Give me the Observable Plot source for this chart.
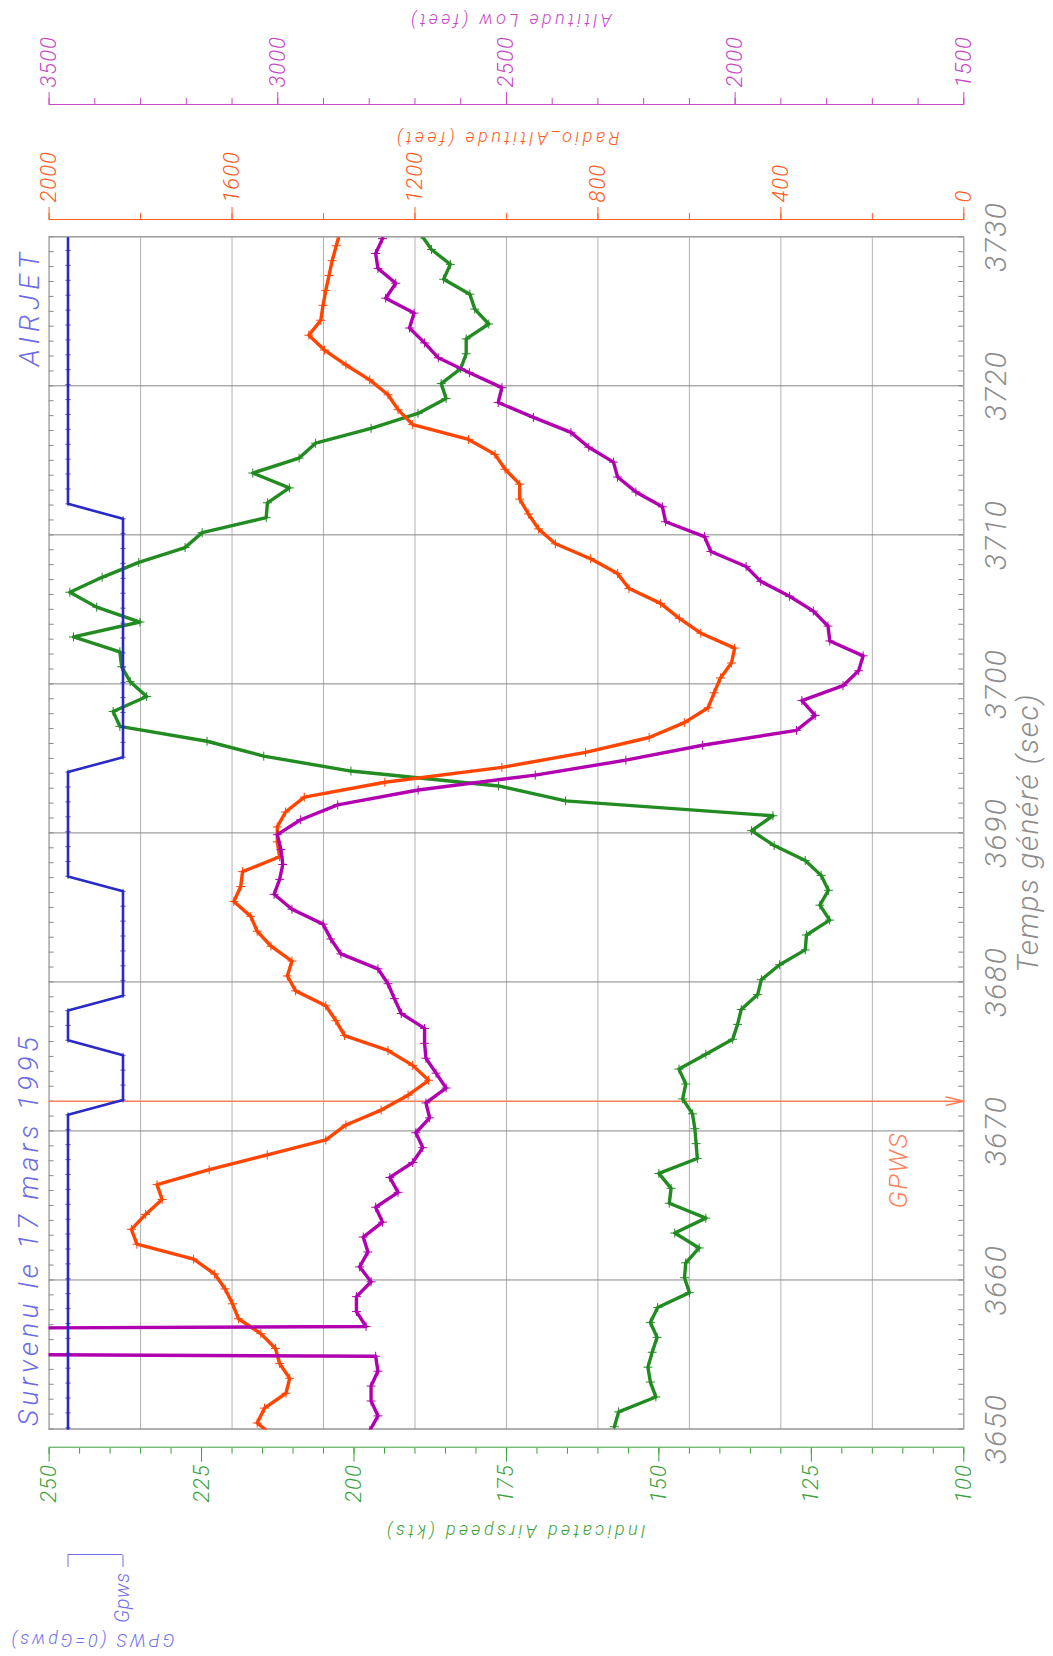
<!DOCTYPE html>
<html>
<head>
<meta charset="utf-8">
<script src="https://cdn.jsdelivr.net/npm/d3@7"></script>
<script src="https://cdn.jsdelivr.net/npm/@observablehq/plot@0.6"></script>
<style>
  html, body { margin: 0; padding: 0; background: #fff; overflow: hidden; }
  #page { position: relative; width: 1053px; height: 1656px; overflow: hidden; background: #fff; }
  /* the recorder sheet is laid out in landscape and turned a quarter turn */
  #sheet { position: absolute; left: 0; top: 0; width: 1656px; height: 1053px;
           transform-origin: 0 0; transform: translate(0px, 1656px) rotate(-90deg); }
</style>
</head>
<body>
<div id="page"><div id="sheet"></div></div>
<script>
// ---- Time base -------------------------------------------------------------
const timeDomain = [3650, 3730];
const timeTicks = [3650, 3660, 3670, 3680, 3690, 3700, 3710, 3720, 3730];
const timeTitle = "Temps généré (sec)";

// ---- Indicated airspeed (kts), one sample per second from 3650.15 s ----------
const airspeedStart = 3650.15;
const airspeedKts = [
  157.3, 156.6, 150.5, 151.4, 151.8, 151.1, 150.3, 151.4, 150.2, 145.0,
  145.8, 145.6, 143.4, 147.4, 142.3, 148.3, 148.0, 150.0, 143.7, 143.9,
  144.1, 144.5, 146.1, 145.6, 146.7, 142.3, 137.9, 137.1, 136.5, 133.8,
  133.2, 130.2, 126.0, 125.8, 122.0, 123.6, 122.2, 123.4, 126.0, 131.1,
  134.8, 131.3, 165.3, 176.3, 200.5, 214.8, 224.1, 238.4, 239.5, 234.0,
  236.7, 238.1, 238.4, 246.0, 235.1, 242.2, 246.6, 241.3, 235.3, 227.7,
  224.9, 214.4, 214.2, 210.6, 216.6, 209.0, 206.3, 197.2, 189.5, 184.9,
  185.7, 182.5, 181.6, 181.6, 177.9, 180.2, 181.0, 185.3, 184.2, 187.3,
  189.0
];
const airspeedDomain = [100, 250];
const airspeedTicks = [100, 125, 150, 175, 200, 225, 250];
const airspeedTitle = "Indicated Airspeed (kts)";

// ---- Radio altitude (feet), one sample per second from 3649.4 s -------------
const radioStart = 3649.4;
const radioFeet = [
  1504, 1545, 1529, 1482, 1474, 1496, 1505, 1537, 1586, 1599,
  1615, 1638, 1684, 1808, 1820, 1789, 1753, 1764, 1650, 1523,
  1395, 1351, 1274, 1215, 1170, 1205, 1259, 1354, 1373, 1395,
  1461, 1479, 1469, 1515, 1545, 1559, 1596, 1581, 1577, 1496,
  1501, 1501, 1483, 1442, 1266, 1010, 827, 688, 611, 559,
  546, 532, 508, 501, 575, 622, 663, 732, 757, 816,
  893, 930, 952, 971, 971, 1003, 1025, 1083, 1205, 1237,
  1259, 1299, 1351, 1398, 1432, 1406, 1401, 1395, 1388, 1381,
  1372, 1363
];
const radioDomain = [0, 2000];
const radioTicks = [0, 400, 800, 1200, 1600, 2000];
const radioTitle = "Radio_Altitude (feet)";

// ---- Altitude low (feet), one sample per second from 3649.88 s --------------
// the sample at 3655.88 s is a corrupt frame far above the scale
const altLowStart = 3649.88;
const altLowFeet = [
  2799, 2781, 2796, 2796, 2781, 2786, 10000, 2807, 2828, 2828,
  2796, 2821, 2803, 2813, 2771, 2786, 2737, 2755, 2705, 2683,
  2698, 2668, 2676, 2632, 2654, 2676, 2679, 2679, 2730, 2745,
  2759, 2781, 2862, 2884, 2901, 2969, 3008, 2996, 2989, 2993,
  3001, 2950, 2869, 2693, 2437, 2239, 2071, 1866, 1825, 1854,
  1764, 1730, 1720, 1793, 1797, 1829, 1881, 1944, 1976, 2053,
  2067, 2152, 2159, 2217, 2257, 2266, 2320, 2359, 2441, 2518,
  2510, 2581, 2649, 2679, 2712, 2702, 2764, 2742, 2781, 2786,
  2771, 2766
];
const altLowDomain = [1500, 3500];
const altLowTicks = [1500, 2000, 2500, 3000, 3500];
const altLowTitle = "Altitude Low (feet)";

// ---- GPWS discrete (0 = Gpws alert), one sample per second from 3649.08 s ----
const gpwsStart = 3649.08;
const gpwsState = [
  1, 1, 1, 1, 1, 1, 1, 1, 1, 1, 1, 1, 1, 1, 1, 1, 1, 1, 1, 1, 1, 1, 1,
  0, 0, 0, 0,
  1, 1, 1,
  0, 0, 0, 0, 0, 0, 0, 0,
  1, 1, 1, 1, 1, 1, 1, 1,
  0, 0, 0, 0, 0, 0, 0, 0, 0, 0, 0, 0, 0, 0, 0, 0, 0,
  1, 1, 1, 1, 1, 1, 1, 1, 1, 1, 1, 1, 1, 1, 1, 1, 1, 1, 1
];
const gpwsDomain = [0, 1];
const gpwsTickLabels = ["Gpws", ""];
const gpwsTitle = "GPWS (0=Gpws)";

// ---- Annotations -----------------------------------------------------------
const gpwsAlertTime = 3672;
const gpwsAlertLabel = "GPWS";
const headerDate = "Survenu le 17 mars 1995";
const headerAircraft = "AIRJET";

// ---- Colours ---------------------------------------------------------------
const C = {
  airspeed: "#228b22", airspeedAxis: "#3aa23a",
  radio: "#ff4500", radioAxis: "#ff5c22",
  altLow: "#b000b0", altLowAxis: "#c848c8",
  gpws: "#2a2ac8", gpwsAxis: "#7070e6",
  alert: "#ff7f5a", header: "#6b6be6",
  time: "#8c8c8c", gridValue: "#b2b2b2", gridTime: "#878787", frame: "#9c9c9c"
};

// ---- Series tables ---------------------------------------------------------
const series = (start, values) => values.map((v, i) => ({t: start + i, v}));
const airspeed = series(airspeedStart, airspeedKts);
const radio = series(radioStart, radioFeet);
const altLow = series(altLowStart, altLowFeet);
const gpws = series(gpwsStart, gpwsState);
const seconds = d3.range(timeDomain[0], timeDomain[1] + 1);

// ---- Layout ----------------------------------------------------------------
const sheet = document.getElementById("sheet");
const W = 1656, H = 1053;
const M = {top: 48.6, right: 237.3, bottom: 89.7, left: 226.5};
const frameH = H - M.top - M.bottom;
const FONT = "Roboto, 'DejaVu Sans', sans-serif";
const LINE = 3.4;

// every scale gets its own transparent layer stacked on the same frame
function layer(options, spacing = 0) {
  const svg = Plot.plot({
    width: W, height: H,
    marginTop: M.top, marginRight: M.right, marginBottom: M.bottom, marginLeft: M.left,
    style: `position:absolute;left:0;top:0;background:transparent;overflow:visible;max-width:none;` +
           `font-family:${FONT};font-style:italic;font-weight:300;letter-spacing:${spacing}px;`,
    ...options
  });
  sheet.appendChild(svg);
  return svg;
}
// widen the tracking of the named labels
function spaceText(svg, strings, px) {
  svg.querySelectorAll("text").forEach(t => {
    if (strings.includes(t.textContent)) {
      t.setAttribute("letter-spacing", px);
      t.style.letterSpacing = px + "px";
    }
  });
}
const plain = d => String(d);
const titleStyle = {fontSize: 18, rotate: -90, lineAnchor: "middle", textAnchor: "middle"};
const TITLE_TRACK = 3.4;

// frame, grid and time axis
const base = layer({
  x: {domain: timeDomain},
  y: {domain: airspeedDomain, axis: null},
  marks: [
    Plot.gridY({ticks: d3.range(airspeedDomain[0], airspeedDomain[1] + 1, 15), stroke: C.gridValue, strokeOpacity: 1}),
    Plot.gridX({ticks: timeTicks, stroke: C.gridTime, strokeOpacity: 1}),
    Plot.ruleX(seconds, {x: d => d, stroke: C.gridTime, insetBottom: frameH - 5}),
    Plot.ruleX(seconds, {x: d => d, stroke: C.gridTime, insetTop: frameH - 5}),
    Plot.frame({stroke: C.frame}),
    Plot.axisX({ticks: timeTicks, tickSize: 0, tickPadding: 21, tickFormat: plain, fontSize: 30, color: C.time, label: null}),
    Plot.text([timeTitle], {frameAnchor: "bottom", dy: 65, lineAnchor: "middle", fontSize: 30, fill: C.time}),
    Plot.arrow([gpwsAlertTime], {x: d => d, y1: airspeedDomain[1], y2: airspeedDomain[0],
      stroke: C.alert, strokeWidth: 1.5, headLength: 18, headAngle: 26}),
    Plot.text([gpwsAlertLabel], {x: () => gpwsAlertTime, frameAnchor: "bottom", dx: -31, dy: -57,
      lineAnchor: "bottom", textAnchor: "end", fontSize: 26, fill: C.alert}),
    Plot.text([headerDate], {frameAnchor: "top-left", dx: 3, dy: -11, lineAnchor: "bottom", textAnchor: "start",
      fontSize: 28, fill: C.header}),
    Plot.text([headerAircraft], {frameAnchor: "top-right", dx: -11, dy: -10, lineAnchor: "bottom", textAnchor: "end",
      fontSize: 28, fill: C.header})
  ]
}, 1.5);
spaceText(base, [headerDate], 4.2);
spaceText(base, [headerAircraft], 5);

// indicated airspeed and its left axis
const asv = layer({
  x: {domain: timeDomain, axis: null},
  y: {domain: airspeedDomain},
  marks: [
    Plot.frame({anchor: "left", dx: -18.2, stroke: C.airspeedAxis}),
    Plot.axisY({anchor: "left", dx: -18.2, ticks: d3.range(airspeedDomain[0], airspeedDomain[1] + 1, 5),
      tickSize: 6, tickFormat: () => "", color: C.airspeedAxis, label: null}),
    Plot.axisY({anchor: "left", dx: -18.2, ticks: airspeedTicks, tickSize: 14, tickPadding: 3,
      tickFormat: plain, fontSize: 22, color: C.airspeedAxis, label: null}),
    Plot.text([airspeedTitle], {frameAnchor: "left", dx: -101.5, dy: 8, fill: C.airspeedAxis, ...titleStyle}),
    Plot.line(airspeed, {x: "t", y: "v", stroke: C.airspeed, strokeWidth: LINE, clip: true}),
    Plot.dot(airspeed, {x: "t", y: "v", symbol: "plus", r: 3, stroke: C.airspeed, strokeWidth: 1, clip: true})
  ]
}, 1);
spaceText(asv, [airspeedTitle], TITLE_TRACK);

// radio altitude and its right axis
const rad = layer({
  x: {domain: timeDomain, axis: null},
  y: {domain: radioDomain},
  marks: [
    Plot.frame({anchor: "right", dx: 17.3, stroke: C.radioAxis}),
    Plot.axisY({anchor: "right", dx: 17.3, ticks: d3.range(radioDomain[0], radioDomain[1] + 1, 200),
      tickSize: 6, tickFormat: () => "", color: C.radioAxis, label: null}),
    Plot.axisY({anchor: "right", dx: 17.3, ticks: radioTicks, tickSize: 12, tickPadding: 5,
      tickFormat: plain, fontSize: 22, color: C.radioAxis, label: null}),
    Plot.text([radioTitle], {frameAnchor: "right", dx: 99.3, fill: C.radioAxis, ...titleStyle}),
    Plot.line(radio, {x: "t", y: "v", stroke: C.radio, strokeWidth: LINE, clip: true}),
    Plot.dot(radio, {x: "t", y: "v", symbol: "plus", r: 3, stroke: C.radio, strokeWidth: 1, clip: true})
  ]
}, 1);
spaceText(rad, [radioTitle], TITLE_TRACK);

// altitude low and its outer right axis
const alt = layer({
  x: {domain: timeDomain, axis: null},
  y: {domain: altLowDomain},
  marks: [
    Plot.frame({anchor: "right", dx: 132.3, stroke: C.altLowAxis}),
    Plot.axisY({anchor: "right", dx: 132.3, ticks: d3.range(altLowDomain[0], altLowDomain[1] + 1, 100),
      tickSize: 6, tickFormat: () => "", color: C.altLowAxis, label: null}),
    Plot.axisY({anchor: "right", dx: 132.3, ticks: altLowTicks, tickSize: 12, tickPadding: 5,
      tickFormat: plain, fontSize: 22, color: C.altLowAxis, label: null}),
    Plot.text([altLowTitle], {frameAnchor: "right", dx: 217.3, dy: 3, fill: C.altLowAxis, ...titleStyle}),
    Plot.line(altLow, {x: "t", y: "v", stroke: C.altLow, strokeWidth: LINE, clip: true}),
    Plot.dot(altLow, {x: "t", y: "v", symbol: "plus", r: 3, stroke: C.altLow, strokeWidth: 1, clip: true})
  ]
}, 1);
spaceText(alt, [altLowTitle], TITLE_TRACK);

// GPWS discrete on a short band at the top of the frame, with its own bracket axis
const gp = layer({
  x: {domain: timeDomain, axis: null},
  y: {domain: gpwsDomain, range: [122.5, 67.5]},
  marks: [
    Plot.ruleX([timeDomain[0]], {x: d => d, y1: gpwsDomain[0], y2: gpwsDomain[1], dx: -125.5, stroke: C.gpwsAxis}),
    Plot.axisY({anchor: "left", dx: -125.5, ticks: gpwsDomain, tickSize: 12, tickPadding: 6,
      tickFormat: d => gpwsTickLabels[gpwsDomain.indexOf(d)], fontSize: 20, color: C.gpwsAxis, label: null}),
    Plot.text([gpwsTitle], {y: () => d3.mean(gpwsDomain), frameAnchor: "left", dx: -210.5, dy: -4, fill: C.gpwsAxis, ...titleStyle}),
    Plot.line(gpws, {x: "t", y: "v", stroke: C.gpws, strokeWidth: 2.6, clip: true}),
    Plot.dot(gpws, {x: "t", y: "v", symbol: "plus", r: 1.8, stroke: C.gpws, strokeWidth: 0.8, clip: true})
  ]
}, 0.5);
spaceText(gp, [gpwsTitle], 3);
</script>
</body>
</html>
